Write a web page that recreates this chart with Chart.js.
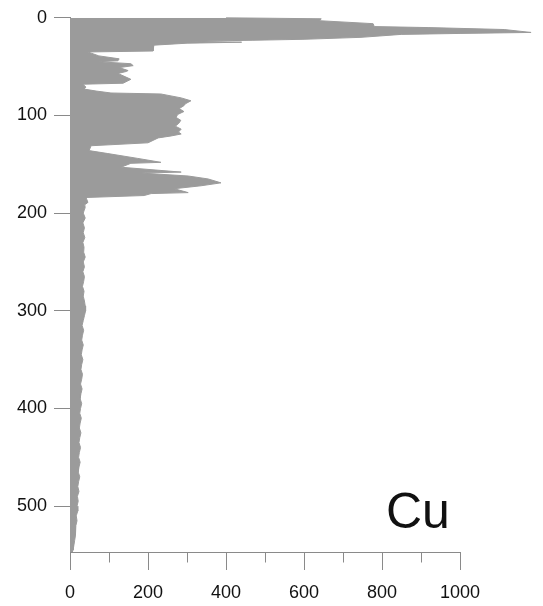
<!DOCTYPE html>
<html>
<head>
<meta charset="utf-8">
<script src="https://cdn.jsdelivr.net/npm/chart.js@4/dist/chart.umd.min.js"></script>
<style>
  html, body { margin: 0; padding: 0; background: #fff; }
  #wrap { width: 543px; height: 606px; }
</style>
</head>
<body>
<div id="wrap"><canvas id="profile"></canvas></div>
<script>
// depth of each sample (top = 0)
const depth = [
  0, 1, 3, 6, 9, 10, 12, 15, 16, 17, 20, 22, 23, 24, 25, 26, 28, 34,
  35, 39, 42, 44, 45, 47, 49, 51, 54, 55, 57, 63, 67, 68, 71, 73, 75, 77,
  78, 82, 85, 88, 90, 93, 96, 99, 102, 105, 108, 111, 114, 117, 119, 121,
  123, 128, 131, 136, 139, 144, 148, 149, 153, 158, 159, 162, 165, 169,
  172, 175, 179, 180, 182, 184, 189, 192,
  195, 200, 205, 210, 215, 220, 225, 230, 235, 240, 245, 250, 255, 260,
  265, 270, 275, 280, 285, 290, 295, 300, 305, 310, 315, 320, 325, 330,
  335, 340, 345, 350, 355, 360, 365, 370, 375, 380, 385, 390, 395, 400,
  405, 410, 415, 420, 425, 430, 435, 440, 445, 450, 455, 460, 465, 470,
  475, 480, 485, 490, 495, 500, 505, 510, 515, 520, 525, 530, 535, 540,
  545, 547
];

// Cu concentration at each depth
const cu = [
  400, 644, 640, 777, 780, 918, 1113, 1182, 1000, 849, 746, 600, 469, 303,
  440, 300, 215, 213,
  46, 74, 126, 123, 72, 156, 162, 126, 149, 144, 123, 156, 136, 33, 41, 36,
  67, 105,
  233, 285, 310, 296, 292, 280, 292, 276, 272, 284, 279, 270, 285, 278,
  285, 259,
  226, 200, 54, 49, 97, 174, 233, 156, 131, 285, 182, 303, 354, 387,
  336, 267, 303, 208, 190, 41, 46, 36,
  38, 34, 39, 33, 37, 34, 38, 33, 36, 35, 39, 34, 37, 33,
  37, 35, 32, 36, 34, 37, 39, 40, 37, 34, 31, 35, 32, 30,
  34, 31, 29, 33, 30, 28, 32, 30, 27, 31, 28, 26, 30, 27,
  25, 29, 26, 24, 28, 25, 23, 27, 24, 22, 26, 23, 21, 25,
  22, 20, 23, 19, 21, 18, 20, 16, 18, 15, 13, 15, 12, 10,
  8, 6
];

const xTicks = [0, 200, 400, 600, 800, 1000];
const xMinorTicks = [100, 300, 500, 700, 900];
const yTicks = [0, 100, 200, 300, 400, 500];

const axisGray = '#8a8a8a';
const labelFont = { family: '"Liberation Sans", Arial, sans-serif', size: 18 };

// x axis baseline stops at 1000, plus the short in-between ticks and the element tag
const axisExtras = {
  id: 'axisExtras',
  afterDraw(chart) {
    const { ctx, scales: { x, y } } = chart;
    const y0 = Math.round(x.top) + 0.5;
    ctx.save();
    ctx.strokeStyle = axisGray;
    ctx.lineWidth = 1;
    ctx.beginPath();
    ctx.moveTo(x.getPixelForValue(0), y0);
    ctx.lineTo(x.getPixelForValue(1000), y0);
    xMinorTicks.forEach(v => {
      const px = Math.round(x.getPixelForValue(v)) + 0.5;
      ctx.moveTo(px, y0);
      ctx.lineTo(px, y0 + 10);
    });
    ctx.stroke();

    ctx.fillStyle = '#111';
    ctx.font = '50px "Liberation Sans", Arial, sans-serif';
    ctx.textBaseline = 'alphabetic';
    ctx.textAlign = 'left';
    ctx.fillText('Cu', x.getPixelForValue(810), y.getPixelForValue(522));
    ctx.restore();
  }
};

new Chart(document.getElementById('profile'), {
  type: 'line',
  data: {
    datasets: [{
      data: depth.map((d, i) => ({ x: cu[i], y: d })),
      indexAxis: 'y',
      fill: 'origin',
      backgroundColor: '#9b9b9b',
      borderColor: '#9b9b9b',
      borderWidth: 1,
      pointRadius: 0,
      tension: 0,
      clip: false
    }]
  },
  options: {
    indexAxis: 'y',
    responsive: true,
    maintainAspectRatio: false,
    animation: false,
    layout: { padding: { top: 16, right: 1, left: 0, bottom: 0 } },
    plugins: {
      legend: { display: false },
      tooltip: { enabled: false }
    },
    scales: {
      x: {
        type: 'linear',
        min: 0,
        max: 1210,
        afterBuildTicks: s => { s.ticks = xTicks.map(v => ({ value: v })); },
        afterFit: s => { s.height = 54; },
        grid: { drawOnChartArea: false, tickLength: 18, tickColor: axisGray },
        border: { display: false },
        ticks: { padding: 12, maxRotation: 0, color: '#111', font: labelFont, callback: v => String(v) }
      },
      y: {
        type: 'linear',
        reverse: true,
        min: 0,
        max: 547,
        afterBuildTicks: s => { s.ticks = yTicks.map(v => ({ value: v })); },
        afterFit: s => { s.width = 70; },
        grid: { drawOnChartArea: false, tickLength: 16, tickColor: axisGray },
        border: { display: true, color: axisGray },
        ticks: { padding: 7, color: '#111', font: labelFont, callback: v => String(v) }
      }
    }
  },
  plugins: [axisExtras]
});
</script>
</body>
</html>
